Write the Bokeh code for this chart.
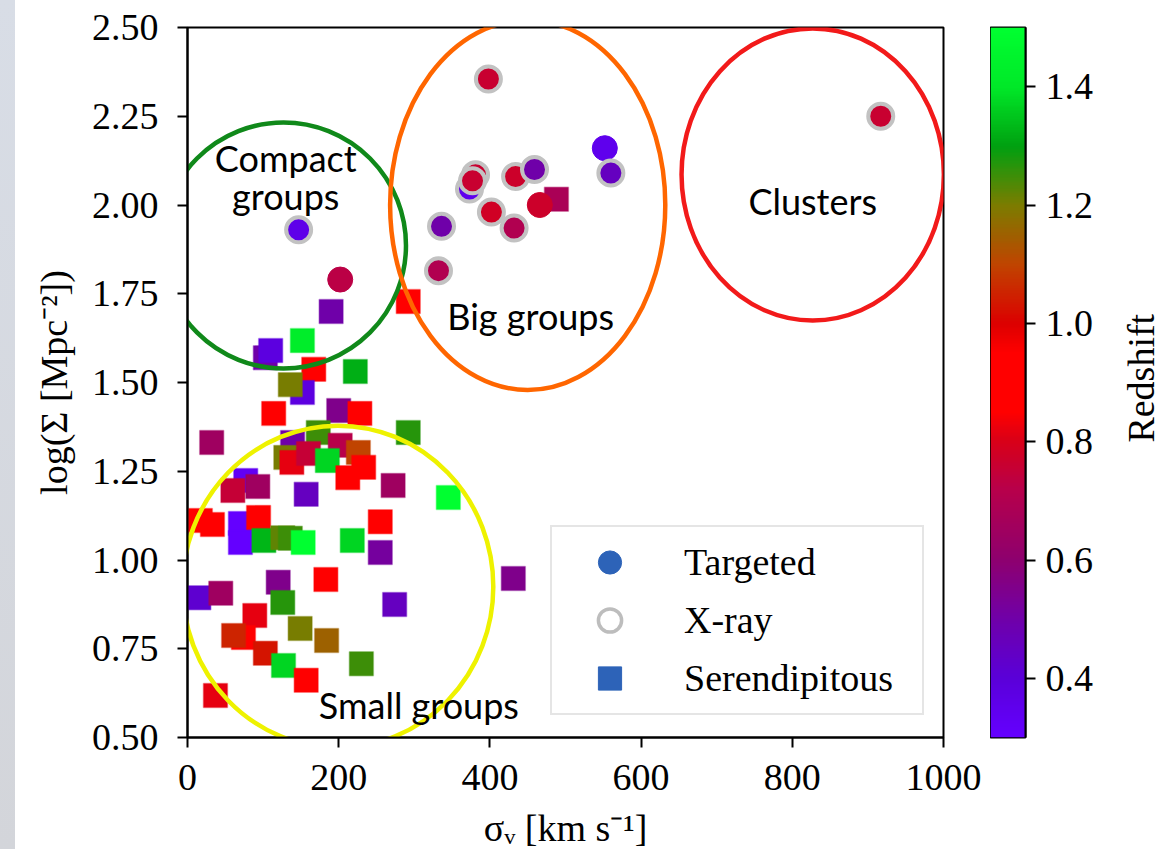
import math
import numpy as np
from bokeh.plotting import figure
from bokeh.models import (ColumnDataSource, LinearColorMapper, FixedTicker,
                          PrintfTickFormatter, Legend, LegendItem, Div, Range1d)
from bokeh.layouts import row
from bokeh.transform import transform
from bokeh.core.properties import value
from bokeh.embed import file_html
from bokeh.resources import INLINE

# ---- data -------------------------------------------------------------
# Targeted groups (filled circles)
tgt_sigma = [202, 552, 466]
tgt_logsig = [1.79, 2.16, 2.00]
tgt_z = [0.73, 0.35, 0.77]

# X-ray selected groups (circles with grey ring)
xr_sigma = [147, 398, 917, 560, 381, 373, 377, 434, 459, 402, 432, 336, 332]
xr_logsig = [1.93, 2.355, 2.25, 2.09, 2.085, 2.045, 2.068, 2.08, 2.10, 1.98,
             1.935, 1.94, 1.815]
xr_z = [0.36, 0.76, 0.76, 0.45, 0.76, 0.35, 0.76, 0.77, 0.50, 0.78, 0.70,
        0.50, 0.70]

# Serendipitous groups (squares)
ser_sigma = [292, 190, 152, 103, 110, 167, 222, 152, 136, 114, 200, 228, 32,
             173, 292, 139, 130, 138, 160, 202, 185, 226, 233, 212, 272, 77,
             60, 93, 157, 17, 33, 70, 70, 94, 101, 126, 136, 153, 218, 345,
             255, 255, 183, 15, 44, 120, 126, 89, 74, 61, 149, 184, 103, 127,
             157, 37, 230, 431, 274, 488]
ser_logsig = [1.728, 1.700, 1.618, 1.570, 1.590, 1.537, 1.531, 1.472, 1.494,
              1.413, 1.421, 1.413, 1.331, 1.359, 1.359, 1.331, 1.289, 1.275,
              1.300, 1.323, 1.280, 1.303, 1.261, 1.232, 1.210, 1.224, 1.196,
              1.207, 1.185, 1.111, 1.100, 1.103, 1.049, 1.120, 1.055, 1.063,
              1.061, 1.049, 1.055, 1.176, 1.108, 1.021, 0.945, 0.894, 0.906,
              0.937, 0.880, 0.844, 0.782, 0.787, 0.807, 0.773, 0.737, 0.703,
              0.661, 0.618, 0.708, 0.948, 0.875, 2.016]
ser_z = [0.90, 0.50, 1.42, 0.50, 0.38, 0.90, 1.32, 0.38, 1.20, 0.90, 0.55,
         0.90, 0.65, 1.25, 1.27, 0.50, 1.20, 0.82, 0.75, 0.72, 1.37, 1.10,
         0.90, 0.90, 0.65, 0.33, 0.75, 0.65, 0.45, 0.90, 0.85, 0.30, 0.30,
         0.90, 1.33, 1.22, 1.25, 1.50, 1.37, 1.50, 0.90, 0.52, 0.90, 0.42,
         0.65, 0.55, 1.27, 0.82, 0.90, 1.05, 1.20, 1.15, 1.03, 1.37, 0.85,
         0.82, 1.25, 0.55, 0.45, 0.68]

# Regions of the sigma / density plane
region_x = [127, 450, 827, 199]
region_y = [1.886, 2.00, 2.086, 0.925]
region_w = [324, 364, 347, 411]
region_h = [0.693, 1.042, 0.823, 0.907]
region_color = ["#10891a", "#ff6600", "#f21a1a", "#eef200"]

label_text = ["Compact", "groups", "Big groups", "Clusters", "Small groups"]
label_x = [130, 130, 454, 827, 306]
label_y = [2.132, 2.024, 1.686, 2.012, 0.592]

x_ticks = [0, 200, 400, 600, 800, 1000]
y_ticks = [0.50, 0.75, 1.00, 1.25, 1.50, 1.75, 2.00, 2.25, 2.50]
cb_ticks = [0.4, 0.6, 0.8, 1.0, 1.2, 1.4]
cb_title = ["Redshift"]

# ---- colour map for redshift ------------------------------------------
anchors = [(0.30, "#6400ff"), (0.40, "#5a00d8"), (0.50, "#7000a8"),
           (0.60, "#8e006e"), (0.72, "#b8004a"), (0.80, "#d80018"),
           (0.85, "#ff0000"), (0.95, "#ff0000"), (1.00, "#dc0000"),
           (1.10, "#c04400"), (1.20, "#7c7c00"), (1.30, "#00a010"),
           (1.40, "#00e828"), (1.50, "#00ff30")]
a_pos = np.array([a[0] for a in anchors])
a_rgb = np.array([[int(a[1][i:i + 2], 16) for i in (1, 3, 5)] for a in anchors])
grid = np.linspace(0.3, 1.5, 256)
palette = []
for g in grid:
    r, gg, b = (int(round(np.interp(g, a_pos, a_rgb[:, k]))) for k in range(3))
    palette.append("#%02x%02x%02x" % (r, gg, b))
mapper = LinearColorMapper(palette=palette, low=0.3, high=1.5)

SERIF = "Liberation Serif"
SANS = "Lato"
FS = "38px"

# ---- main scatter -----------------------------------------------------
p = figure(frame_width=756, frame_height=710,
           x_range=Range1d(0, 1000), y_range=Range1d(0.5, 2.5),
           output_backend="svg", toolbar_location=None,
           min_border_left=172, min_border_right=47,
           min_border_top=27, min_border_bottom=112)
p.grid.visible = False
p.outline_line_color = "black"
p.outline_line_width = 2
p.outline_line_alpha = 1
p.background_fill_color = "white"
p.border_fill_color = "white"

for ax in (p.xaxis[0], p.yaxis[0]):
    ax.axis_line_width = 2
    ax.major_tick_line_width = 2
    ax.major_tick_out = 10
    ax.major_tick_in = 0
    ax.minor_tick_out = 0
    ax.minor_tick_in = 0
    ax.major_label_text_font = SERIF
    ax.major_label_text_font_size = FS
    ax.major_label_text_font_style = "normal"
    ax.major_label_text_color = "black"
    ax.axis_label_text_font = SERIF
    ax.axis_label_text_font_size = FS
    ax.axis_label_text_font_style = "normal"
    ax.axis_label_text_color = "black"

p.xaxis.ticker = FixedTicker(ticks=x_ticks)
p.yaxis.ticker = FixedTicker(ticks=y_ticks)
p.yaxis.formatter = PrintfTickFormatter(format="%.2f")
p.xaxis.axis_label = "σᵥ [km s⁻¹]"
p.yaxis.axis_label = "log(Σ [Mpc⁻²])"
p.xaxis.major_label_standoff = 17
p.xaxis.axis_label_standoff = 14
p.yaxis.major_label_standoff = 19
p.yaxis.axis_label_standoff = 14

ser_src = ColumnDataSource(dict(x=ser_sigma, y=ser_logsig, z=ser_z))
p.scatter("x", "y", source=ser_src, marker="square", size=24,
          fill_color=transform("z", mapper), line_color=transform("z", mapper),
          line_alpha=0.35, line_width=1.5)

tgt_src = ColumnDataSource(dict(x=tgt_sigma, y=tgt_logsig, z=tgt_z))
p.scatter("x", "y", source=tgt_src, marker="circle", size=25,
          fill_color=transform("z", mapper), line_color=transform("z", mapper),
          line_width=1)

xr_src = ColumnDataSource(dict(x=xr_sigma, y=xr_logsig, z=xr_z))
p.scatter("x", "y", source=xr_src, marker="circle", size=25,
          fill_color=transform("z", mapper), line_color="#c2c2c2",
          line_width=4)

p.ellipse(x=region_x, y=region_y, width=region_w, height=region_h,
          fill_color=None, line_color=region_color, line_width=4.5)

p.text(x=label_x, y=label_y, text=label_text, text_align="center",
       text_baseline="middle", text_font=value(SANS),
       text_font_size="36px", text_color="black")

# legend keys (not plotted, only shown in the legend)
nan_xy = dict(x=np.array([np.nan]), y=np.array([np.nan]))
k_tgt = p.scatter("x", "y", source=ColumnDataSource(nan_xy), marker="circle",
                  fill_color="#2d63b8", line_color="#2d63b8")
k_xr = p.scatter("x", "y", source=ColumnDataSource(nan_xy), marker="circle",
                 fill_color="white", line_color="#bdbdbd", line_width=3.5)
k_ser = p.scatter("x", "y", source=ColumnDataSource(nan_xy), marker="square",
                  fill_color="#2d63b8", line_color="#2d63b8")

legend = Legend(items=[LegendItem(label="Targeted", renderers=[k_tgt]),
                       LegendItem(label="X-ray", renderers=[k_xr]),
                       LegendItem(label="Serendipitous", renderers=[k_ser])],
                location=(363, 22))
legend.border_line_color = "#cccccc"
legend.border_line_width = 2
legend.background_fill_color = "white"
legend.background_fill_alpha = 1
legend.label_text_font = SERIF
legend.label_text_font_size = FS
legend.label_text_color = "black"
legend.glyph_width = 103
legend.glyph_height = 58
legend.label_height = 58
legend.label_width = 232
legend.label_standoff = 23
legend.spacing = 0
legend.padding = 6
legend.margin = 0
p.add_layout(legend)

# ---- colour bar ---------------------------------------------------------
cb = figure(frame_width=35, frame_height=710,
            x_range=Range1d(0, 1), y_range=Range1d(0.3, 1.5),
            x_axis_location=None, y_axis_location="right",
            output_backend="svg", toolbar_location=None,
            min_border_left=0, min_border_right=90,
            min_border_top=27, min_border_bottom=112)
cb.grid.visible = False
cb.outline_line_color = "black"
cb.outline_line_width = 2
cb.outline_line_alpha = 1
cb.border_fill_color = "white"
cb.image(image=[grid.reshape(-1, 1)], x=0, y=0.3, dw=1, dh=1.2,
         color_mapper=mapper)
cax = cb.yaxis[0]
cax.ticker = FixedTicker(ticks=cb_ticks)
cax.formatter = PrintfTickFormatter(format="%.1f")
cax.axis_line_width = 2
cax.major_tick_line_width = 2
cax.major_tick_out = 10
cax.major_tick_in = 0
cax.minor_tick_out = 0
cax.minor_tick_in = 0
cax.major_label_text_font = SERIF
cax.major_label_text_font_size = FS
cax.major_label_text_font_style = "normal"
cax.major_label_text_color = "black"
cax.major_label_standoff = 10

# colour bar title, written bottom-to-top in its own narrow panel
ttl = figure(frame_width=50, frame_height=710,
             x_range=Range1d(0, 1), y_range=Range1d(0, 1),
             x_axis_location=None, y_axis_location=None,
             output_backend="svg", toolbar_location=None,
             min_border_left=0, min_border_right=0,
             min_border_top=27, min_border_bottom=112)
ttl.grid.visible = False
ttl.outline_line_color = None
ttl.border_fill_color = "white"
ttl.background_fill_color = "white"
ttl.text(x=[0.5], y=[0.506], text=cb_title, angle=math.pi / 2,
         text_align="center", text_baseline="middle",
         text_font=value(SERIF), text_font_size=FS, text_color="black")

strip = Div(text="", width=15, height=849, margin=0,
            styles={"background": "linear-gradient(to bottom, #d8dde6, #d3d5da)"})

layout = row(strip, p, cb, ttl, spacing=0)

with open("out.html", "w") as f:
    f.write(file_html(layout, INLINE))
